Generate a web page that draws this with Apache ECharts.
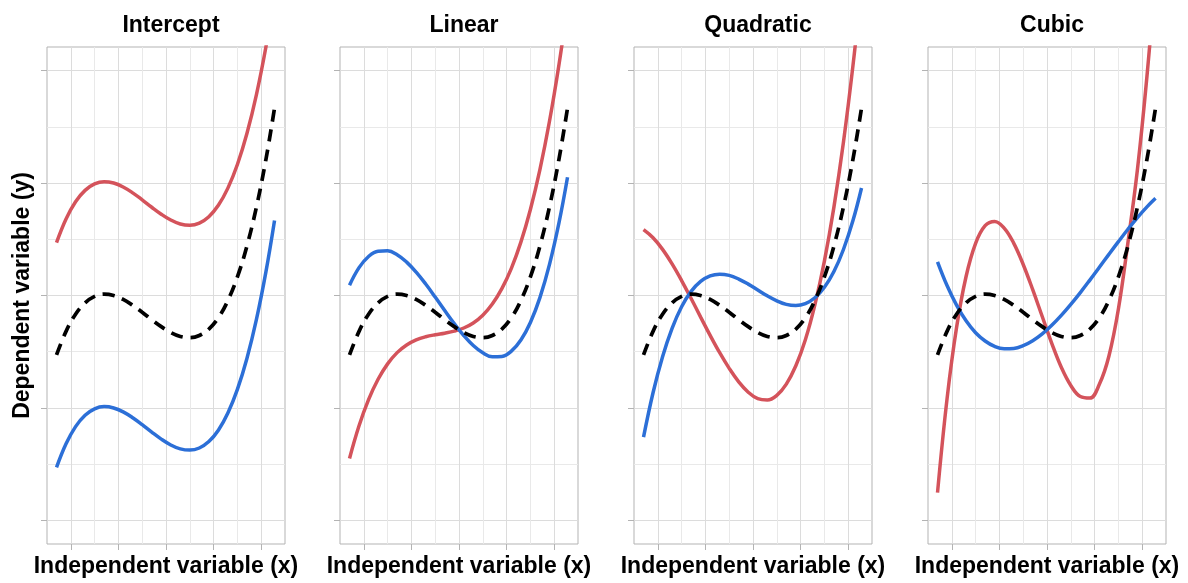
<!DOCTYPE html>
<html>
<head>
<meta charset="utf-8">
<script src="https://cdn.jsdelivr.net/npm/echarts@6/dist/echarts.min.js"></script>
<style>
  html, body { margin: 0; padding: 0; background: #ffffff; }
  #chart { width: 1188px; height: 583px; }
</style>
</head>
<body>
<div id="chart"></div>
<script>
// ---- data ----
const panelTitles = ['Intercept', 'Linear', 'Quadratic', 'Cubic'];
const xAxisTitle = 'Independent variable (x)';
const yAxisTitle = 'Dependent variable (y)';

const xs = [0.7, 0.9, 1.1, 1.3, 1.5, 1.7, 1.9, 2.1, 2.3, 2.5, 2.7, 2.9,
            3.1, 3.3, 3.5, 3.7, 3.9, 4.1, 4.3, 4.5, 4.7, 4.9, 5.1, 5.28];

// black dashed reference curve (same in every panel)
const trueCurve = [2.471, 2.681, 2.834, 2.935, 2.992, 3.012, 3.000, 2.965, 2.913, 2.851, 2.785, 2.723,
                   2.671, 2.636, 2.625, 2.644, 2.701, 2.802, 2.955, 3.165, 3.440, 3.787, 4.212, 4.667];

const interceptRed  = [3.471, 3.681, 3.834, 3.935, 3.992, 4.012, 4.000, 3.965, 3.913, 3.851, 3.785, 3.723,
                       3.671, 3.636, 3.625, 3.644, 3.701, 3.802, 3.955, 4.165, 4.440, 4.787, 5.212, 5.667];
const interceptBlue = [1.471, 1.681, 1.834, 1.935, 1.992, 2.012, 2.000, 1.965, 1.913, 1.851, 1.785, 1.723,
                       1.671, 1.636, 1.625, 1.644, 1.701, 1.802, 1.955, 2.165, 2.440, 2.787, 3.212, 3.667];

const linearRed  = [1.551, 1.841, 2.074, 2.255, 2.392, 2.492, 2.560, 2.605, 2.633, 2.651, 2.665, 2.683,
                    2.711, 2.756, 2.825, 2.924, 3.061, 3.242, 3.475, 3.765, 4.120, 4.547, 5.052, 5.579];
const linearBlue = [3.092, 3.248, 3.347, 3.394, 3.397, 3.363, 3.297, 3.208, 3.102, 2.986, 2.866, 2.750,
                    2.644, 2.555, 2.490, 2.455, 2.458, 2.505, 2.604, 2.760, 2.981, 3.274, 3.645, 4.051];

const quadraticRed  = [3.585, 3.513, 3.410, 3.281, 3.133, 2.973, 2.808, 2.645, 2.491, 2.352, 2.232, 2.140,
                       2.082, 2.070, 2.112, 2.212, 2.375, 2.607, 2.917, 3.306, 3.786, 4.363, 5.044, 5.751];
const quadraticBlue = [1.740, 2.135, 2.456, 2.708, 2.900, 3.037, 3.126, 3.175, 3.190, 3.179, 3.146, 3.101,
                       3.049, 2.997, 2.953, 2.921, 2.911, 2.928, 2.980, 3.073, 3.213, 3.409, 3.666, 3.956];

const cubicRed  = [1.247, 2.081, 2.715, 3.169, 3.464, 3.621, 3.659, 3.600, 3.466, 3.276, 3.052, 2.813,
                   2.575, 2.362, 2.200, 2.102, 2.088, 2.210, 2.460, 2.880, 3.470, 4.120, 4.950, 5.850];
const cubicBlue = [3.300, 3.089, 2.915, 2.775, 2.669, 2.595, 2.547, 2.526, 2.529, 2.554, 2.598, 2.659,
                   2.735, 2.823, 2.921, 3.026, 3.137, 3.251, 3.366, 3.479, 3.589, 3.693, 3.788, 3.864];

const redSeries  = [interceptRed, linearRed, quadraticRed, cubicRed];
const blueSeries = [interceptBlue, linearBlue, quadraticBlue, cubicBlue];

// axis breaks (no tick labels are printed)
const xMajorBreaks = [1, 2, 3, 4, 5];
const xMinorBreaks = [1.5, 2.5, 3.5, 4.5];
const yMajorBreaks = [1, 2, 3, 4, 5];
const yMinorBreaks = [1.5, 2.5, 3.5, 4.5];
const xRange = [0.5, 5.5];
const yRange = [0.79, 5.21];

// ---- layout / style ----
const FONT = '"Liberation Sans", Arial, Helvetica, sans-serif';
const RED = '#d4535b';
const BLUE = '#2c6fd7';
const panelLeft = [47, 340, 634, 928];
const panelWidth = 238;
const panelTop = 47;
const panelHeight = 501;
const textStyle = { fontFamily: FONT, fontSize: 23, fontWeight: 'bold', color: '#000' };

const pairs = ys => xs.map((x, i) => [x, ys[i]]);

const grids = [], xAxes = [], yAxes = [], series = [], titles = [];
panelTitles.forEach((t, i) => {
  grids.push({
    left: panelLeft[i], top: panelTop, width: panelWidth, height: panelHeight,
    show: true, borderColor: '#b3b3b3', borderWidth: 1, backgroundColor: '#ffffff'
  });
  titles.push({
    text: t, left: panelLeft[i] + panelWidth / 2, top: 9, textAlign: 'center',
    textStyle: textStyle
  });
  // minor grid axis
  xAxes.push({
    gridIndex: i, type: 'value', min: xRange[0], max: xRange[1],
    axisLine: { show: false },
    axisTick: { show: false, customValues: xMinorBreaks },
    axisLabel: { show: false, customValues: xMinorBreaks },
    splitLine: { show: true, lineStyle: { color: '#e9e9e9', width: 1 } }
  });
  // major grid + ticks + title axis
  xAxes.push({
    gridIndex: i, type: 'value', min: xRange[0], max: xRange[1], position: 'bottom',
    axisLine: { show: false },
    axisTick: { show: true, customValues: xMajorBreaks, length: 6, lineStyle: { color: '#b3b3b3', width: 1 } },
    axisLabel: { show: false, customValues: xMajorBreaks },
    splitLine: { show: true, lineStyle: { color: '#dcdcdc', width: 1 } },
    name: xAxisTitle, nameLocation: 'middle', nameGap: 11,
    nameTextStyle: textStyle
  });
  yAxes.push({
    gridIndex: i, type: 'value', min: yRange[0], max: yRange[1],
    axisLine: { show: false },
    axisTick: { show: false, customValues: yMinorBreaks },
    axisLabel: { show: false, customValues: yMinorBreaks },
    splitLine: { show: true, lineStyle: { color: '#e9e9e9', width: 1 } }
  });
  const yMain = {
    gridIndex: i, type: 'value', min: yRange[0], max: yRange[1], position: 'left',
    axisLine: { show: false },
    axisTick: { show: true, customValues: yMajorBreaks, length: 6, lineStyle: { color: '#b3b3b3', width: 1 } },
    axisLabel: { show: false, customValues: yMajorBreaks },
    splitLine: { show: true, lineStyle: { color: '#dcdcdc', width: 1 } }
  };
  if (i === 0) {
    Object.assign(yMain, {
      name: yAxisTitle, nameLocation: 'middle', nameRotate: 90, nameGap: 13,
      nameTextStyle: textStyle
    });
  }
  yAxes.push(yMain);

  const common = { type: 'line', xAxisIndex: 2 * i, yAxisIndex: 2 * i, showSymbol: false,
                   symbol: 'none', smooth: 0.4, clip: true, silent: true };
  series.push(Object.assign({}, common, {
    name: t + ' red', data: pairs(redSeries[i]),
    lineStyle: { color: RED, width: 3.5 }, z: 3
  }));
  series.push(Object.assign({}, common, {
    name: t + ' blue', data: pairs(blueSeries[i]),
    lineStyle: { color: BLUE, width: 3.5 }, z: 4
  }));
  series.push(Object.assign({}, common, {
    name: t + ' true', data: pairs(trueCurve),
    lineStyle: { color: '#000000', width: 3.7, type: [12, 8], cap: 'butt' }, z: 5
  }));
});

const chart = echarts.init(document.getElementById('chart'), null, { renderer: 'canvas' });
chart.setOption({
  animation: false,
  backgroundColor: '#ffffff',
  title: titles,
  grid: grids,
  xAxis: xAxes,
  yAxis: yAxes,
  series: series
});
</script>
</body>
</html>
